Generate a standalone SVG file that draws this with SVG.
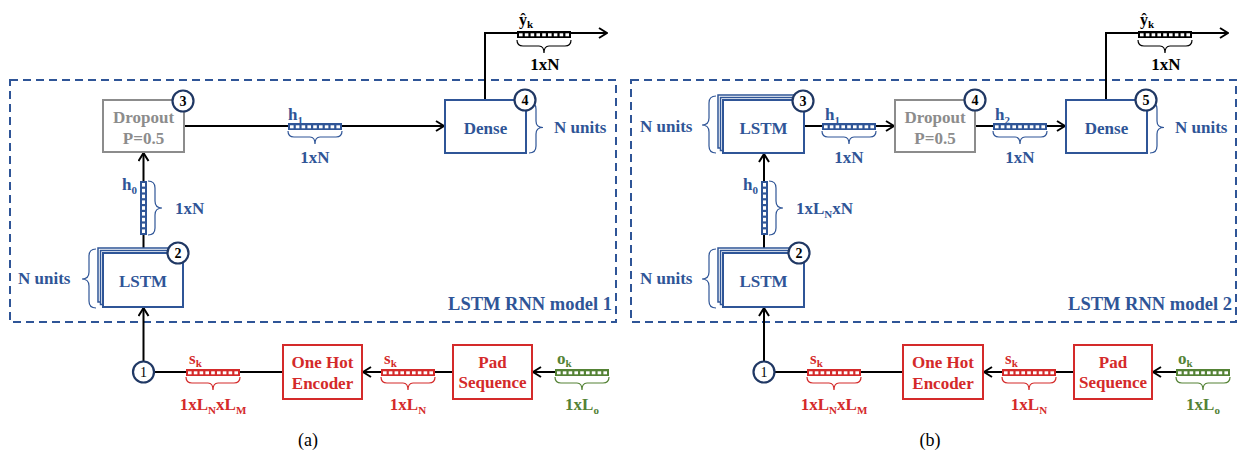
<svg xmlns="http://www.w3.org/2000/svg" width="1241" height="458" viewBox="0 0 1241 458">
<style>
text{font-family:Liberation Serif,Tinos,Times New Roman,Times,Noto Serif,DejaVu Serif,serif;font-weight:bold;font-size:17px}
.b{fill:#2F5597}.r{fill:#D42A2A}.g{fill:#548235}.k{fill:#000}.gy{fill:#8C8C8C}
.cb{color:#2F5597}.cr{color:#D42A2A}.cg{color:#548235}.ck{color:#000}
.box{fill:#fff;stroke-width:2}
.bb{stroke:#2F5597}.br{stroke:#D42A2A}.bg{stroke:#8C8C8C}
.frame{fill:none;stroke:#2F5597;stroke-width:2;stroke-dasharray:8 5}
.con{fill:none;stroke:#000;stroke-width:2}
.arr{marker-end:url(#ar)}
.brace{fill:none;stroke-width:1.2}
.sb{stroke:#2F5597}.sr{stroke:#D42A2A}.sg{stroke:#548235}.sk{stroke:#000}
.num circle{fill:#fff;stroke:#203864;stroke-width:2.2}
.num text{font-size:14px;fill:#000;text-anchor:middle}
.m{text-anchor:middle}.e{text-anchor:end}
.sub{font-size:11px}
.cap{font-weight:normal;font-size:18px;fill:#000;text-anchor:middle}
</style>
<defs>
<marker id="ar" viewBox="0 0 10 12" refX="9" refY="6" markerWidth="10" markerHeight="12" markerUnits="userSpaceOnUse" orient="auto">
<path d="M1,1 L9,6 L1,11" fill="none" stroke="#000" stroke-width="2"/>
</marker>
<g id="vh">
<rect x="0" y="0" width="54" height="7" fill="currentColor"/>
<g fill="#fff">
<rect x="2" y="2.3" width="3.6" height="3"/><rect x="7.8" y="2.3" width="3.6" height="3"/><rect x="13.6" y="2.3" width="3.6" height="3"/><rect x="19.4" y="2.3" width="3.6" height="3"/><rect x="25.2" y="2.3" width="3.6" height="3"/><rect x="31" y="2.3" width="3.6" height="3"/><rect x="36.8" y="2.3" width="3.6" height="3"/><rect x="42.6" y="2.3" width="3.6" height="3"/><rect x="48.4" y="2.3" width="3.6" height="3"/>
</g>
</g>
<g id="vv">
<rect x="0" y="0" width="7" height="54" fill="currentColor"/>
<g fill="#fff">
<rect y="2" x="2" height="3.6" width="3"/><rect y="7.8" x="2" height="3.6" width="3"/><rect y="13.6" x="2" height="3.6" width="3"/><rect y="19.4" x="2" height="3.6" width="3"/><rect y="25.2" x="2" height="3.6" width="3"/><rect y="31" x="2" height="3.6" width="3"/><rect y="36.8" x="2" height="3.6" width="3"/><rect y="42.6" x="2" height="3.6" width="3"/><rect y="48.4" x="2" height="3.6" width="3"/>
</g>
</g>
<path id="bd" d="M0,0 Q0,6 6,6 H22 Q27,6 27,13 Q27,6 32,6 H48 Q54,6 54,0"/>
</defs>

<!-- frames -->
<rect class="frame" x="10" y="80" width="606" height="242"/>
<rect class="frame" x="631" y="80" width="605" height="242"/>
<text class="b e" x="612" y="310" style="font-size:18.5px">LSTM RNN model 1</text>
<text class="b e" x="1232" y="310" style="font-size:18.5px">LSTM RNN model 2</text>

<!-- connectors -->
<g id="connectors">
<path class="con arr" d="M184,126 H444"/>
<path class="con arr" d="M485,100 V33 H607"/>
<path class="con arr" d="M143.5,253 V153"/>
<path class="con arr" d="M143.5,361.5 V308"/>
<path class="con" d="M153.5,372 H283"/>
<path class="con arr" d="M453,372 H363"/>
<path class="con arr" d="M555,372 H533"/>

<path class="con arr" d="M804,126 H894"/>
<path class="con arr" d="M975,126 H1065"/>
<path class="con arr" d="M1106,100 V33 H1228"/>
<path class="con arr" d="M764,253 V154"/>
<path class="con arr" d="M764,361.5 V308"/>
<path class="con" d="M774.5,372 H903"/>
<path class="con arr" d="M1074,372 H984"/>
<path class="con arr" d="M1176,372 H1153"/>
</g>

<!-- ===== Panel (a) ===== -->
<g id="a-dropout">
<rect class="box bg" x="103" y="100" width="81" height="52"/>
<text class="gy m" x="143.5" y="123">Dropout</text>
<text class="gy m" x="143.5" y="144">P=0.5</text>
<g class="num"><circle cx="183" cy="101" r="10.5"/><text x="183" y="106">3</text></g>
</g>
<g id="a-h1">
<use href="#vh" x="288" y="123" class="cb"/>
<use href="#bd" x="288" y="131" class="brace sb"/>
<text class="b" x="288" y="120">h<tspan class="sub" dy="4">1</tspan></text>
<text class="b m" x="315" y="163">1xN</text>
</g>
<g id="a-dense">
<rect class="box bb" x="445" y="100" width="81" height="53"/>
<text class="b m" x="485.5" y="134">Dense</text>
<path class="brace sb" d="M529,102 Q536,102 536,109 V121 Q536,127.5 543,127.5 Q536,127.5 536,134 V146 Q536,153 529,153"/>
<g class="num"><circle cx="525" cy="100" r="10.5"/><text x="525" y="105">4</text></g>
<text class="b" x="554" y="133">N units</text>
</g>
<g id="a-out">
<use href="#vh" x="517" y="31" class="ck"/>
<use href="#bd" x="517" y="40" class="brace sk"/>
<text class="k" x="519" y="25" style="font-size:16px">ŷ<tspan class="sub" dy="3">k</tspan></text>
<text class="k m" x="545" y="70">1xN</text>
</g>
<g id="a-h0">
<use href="#vv" x="140" y="181" class="cb"/>
<path class="brace sb" d="M148,181 Q155,181 155,188 V201 Q155,208 162,208 Q155,208 155,215 V228 Q155,235 148,235"/>
<text class="b" x="122" y="190">h<tspan class="sub" dy="4">0</tspan></text>
<text class="b" x="175" y="214">1xN</text>
</g>
<g id="a-lstm">
<rect class="box bb" x="98" y="248" width="80" height="54" style="stroke-width:1.5"/>
<rect class="box bb" x="100.5" y="250.5" width="80" height="54" style="stroke-width:1.5"/>
<rect class="box bb" x="103" y="253" width="80" height="54"/>
<text class="b m" x="143" y="287">LSTM</text>
<g class="num"><circle cx="178" cy="253" r="10.5"/><text x="178" y="258">2</text></g>
<path class="brace sb" d="M96,249 Q89,249 89,256 V272 Q89,279 82,279 Q89,279 89,286 V301 Q89,308 96,308"/>
<text class="b" x="18" y="284">N units</text>
</g>
<g id="a-n1" class="num"><circle cx="143.5" cy="372" r="10.5"/><text x="143.5" y="377" style="font-weight:normal">1</text></g>
<g id="a-sk2">
<use href="#vh" x="186" y="369" class="cr"/>
<use href="#bd" x="186" y="377" class="brace sr"/>
<text class="r" x="189" y="364">s<tspan class="sub" dy="3">k</tspan></text>
<text class="r m" x="213" y="410">1xL<tspan class="sub" dy="4">N</tspan><tspan dy="-4">xL</tspan><tspan class="sub" dy="4">M</tspan></text>
</g>
<g id="a-onehot">
<rect class="box br" x="283" y="345" width="79" height="54"/>
<text class="r m" x="322.5" y="368">One Hot</text>
<text class="r m" x="322.5" y="389">Encoder</text>
</g>
<g id="a-sk1">
<use href="#vh" x="381" y="369" class="cr"/>
<use href="#bd" x="381" y="377" class="brace sr"/>
<text class="r" x="384" y="364">s<tspan class="sub" dy="3">k</tspan></text>
<text class="r m" x="408" y="410">1xL<tspan class="sub" dy="4">N</tspan></text>
</g>
<g id="a-pad">
<rect class="box br" x="453" y="345" width="79" height="54"/>
<text class="r m" x="492.5" y="368">Pad</text>
<text class="r m" x="492.5" y="388">Sequence</text>
</g>
<g id="a-ok">
<use href="#vh" x="555" y="369" class="cg"/>
<use href="#bd" x="555" y="377" class="brace sg"/>
<text class="g" x="557" y="364">o<tspan class="sub" dy="3">k</tspan></text>
<text class="g m" x="582" y="410">1xL<tspan class="sub" dy="4">o</tspan></text>
</g>
<text class="cap" x="308" y="446">(a)</text>

<!-- ===== Panel (b) ===== -->
<g id="b-lstm3">
<rect class="box bb" x="718" y="95" width="81" height="53" style="stroke-width:1.5"/>
<rect class="box bb" x="720.5" y="97.5" width="81" height="53" style="stroke-width:1.5"/>
<rect class="box bb" x="723" y="100" width="81" height="53"/>
<text class="b m" x="763.5" y="134">LSTM</text>
<g class="num"><circle cx="803" cy="101" r="10.5"/><text x="803" y="106">3</text></g>
<path class="brace sb" d="M716,96 Q709,96 709,103 V118 Q709,125 702,125 Q709,125 709,132 V146 Q709,153 716,153"/>
<text class="b" x="640" y="132">N units</text>
</g>
<g id="b-h1">
<use href="#vh" x="822" y="123" class="cb"/>
<use href="#bd" x="822" y="131" class="brace sb"/>
<text class="b" x="825" y="120">h<tspan class="sub" dy="4">1</tspan></text>
<text class="b m" x="849" y="163">1xN</text>
</g>
<g id="b-dropout">
<rect class="box bg" x="895" y="100" width="80" height="52"/>
<text class="gy m" x="935" y="123">Dropout</text>
<text class="gy m" x="935" y="144">P=0.5</text>
<g class="num"><circle cx="975" cy="100" r="10.5"/><text x="975" y="105">4</text></g>
</g>
<g id="b-h2">
<use href="#vh" x="993" y="123" class="cb"/>
<use href="#bd" x="993" y="131" class="brace sb"/>
<text class="b" x="995" y="120">h<tspan class="sub" dy="4">2</tspan></text>
<text class="b m" x="1020" y="163">1xN</text>
</g>
<g id="b-dense">
<rect class="box bb" x="1066" y="100" width="81" height="53"/>
<text class="b m" x="1106.5" y="134">Dense</text>
<path class="brace sb" d="M1150,102 Q1157,102 1157,109 V121 Q1157,127.5 1164,127.5 Q1157,127.5 1157,134 V146 Q1157,153 1150,153"/>
<g class="num"><circle cx="1146" cy="100" r="10.5"/><text x="1146" y="105">5</text></g>
<text class="b" x="1175" y="133">N units</text>
</g>
<g id="b-out">
<use href="#vh" x="1138" y="31" class="ck"/>
<use href="#bd" x="1138" y="40" class="brace sk"/>
<text class="k" x="1140" y="25" style="font-size:16px">ŷ<tspan class="sub" dy="3">k</tspan></text>
<text class="k m" x="1166" y="70">1xN</text>
</g>
<g id="b-h0">
<use href="#vv" x="761" y="181" class="cb"/>
<path class="brace sb" d="M769,181 Q776,181 776,188 V201 Q776,208 783,208 Q776,208 776,215 V228 Q776,235 769,235"/>
<text class="b" x="743" y="190">h<tspan class="sub" dy="4">0</tspan></text>
<text class="b" x="796" y="214">1xL<tspan class="sub" dy="4">N</tspan><tspan dy="-4">xN</tspan></text>
</g>
<g id="b-lstm2">
<rect class="box bb" x="718" y="248" width="81" height="54" style="stroke-width:1.5"/>
<rect class="box bb" x="720.5" y="250.5" width="81" height="54" style="stroke-width:1.5"/>
<rect class="box bb" x="723" y="253" width="81" height="54"/>
<text class="b m" x="763.5" y="287">LSTM</text>
<g class="num"><circle cx="799" cy="253" r="10.5"/><text x="799" y="258">2</text></g>
<path class="brace sb" d="M716,249 Q709,249 709,256 V272 Q709,279 702,279 Q709,279 709,286 V301 Q709,308 716,308"/>
<text class="b" x="640" y="284">N units</text>
</g>
<g id="b-n1" class="num"><circle cx="764" cy="372" r="10.5"/><text x="764" y="377" style="font-weight:normal">1</text></g>
<g id="b-sk2">
<use href="#vh" x="807" y="369" class="cr"/>
<use href="#bd" x="807" y="377" class="brace sr"/>
<text class="r" x="810" y="364">s<tspan class="sub" dy="3">k</tspan></text>
<text class="r m" x="834" y="410">1xL<tspan class="sub" dy="4">N</tspan><tspan dy="-4">xL</tspan><tspan class="sub" dy="4">M</tspan></text>
</g>
<g id="b-onehot">
<rect class="box br" x="903" y="345" width="80" height="54"/>
<text class="r m" x="943" y="368">One Hot</text>
<text class="r m" x="943" y="389">Encoder</text>
</g>
<g id="b-sk1">
<use href="#vh" x="1002" y="369" class="cr"/>
<use href="#bd" x="1002" y="377" class="brace sr"/>
<text class="r" x="1005" y="364">s<tspan class="sub" dy="3">k</tspan></text>
<text class="r m" x="1029" y="410">1xL<tspan class="sub" dy="4">N</tspan></text>
</g>
<g id="b-pad">
<rect class="box br" x="1074" y="345" width="78" height="54"/>
<text class="r m" x="1113" y="368">Pad</text>
<text class="r m" x="1113" y="388">Sequence</text>
</g>
<g id="b-ok">
<use href="#vh" x="1176" y="369" class="cg"/>
<use href="#bd" x="1176" y="377" class="brace sg"/>
<text class="g" x="1178" y="364">o<tspan class="sub" dy="3">k</tspan></text>
<text class="g m" x="1203" y="410">1xL<tspan class="sub" dy="4">o</tspan></text>
</g>
<text class="cap" x="930" y="446">(b)</text>
</svg>
